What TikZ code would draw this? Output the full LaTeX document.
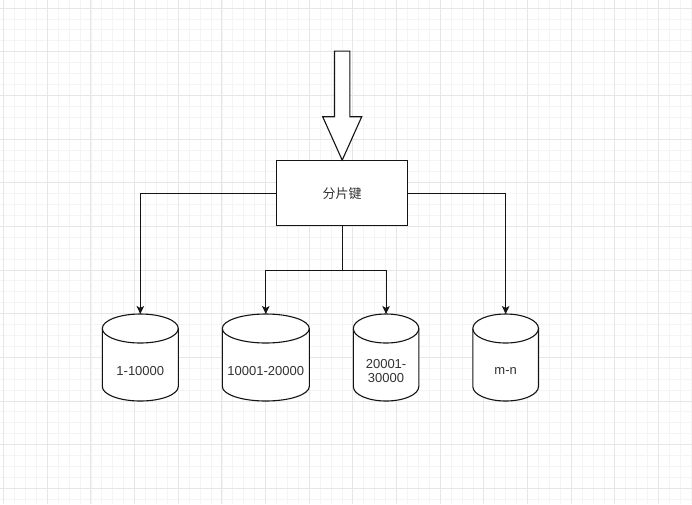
\documentclass[tikz,border=0pt]{standalone}
\usepackage{fontspec}
\setmainfont{Liberation Sans}
\newfontfamily\cjk{Noto Sans CJK SC}
\usepackage{tikz}
\usetikzlibrary{arrows.meta,calc,positioning}
\definecolor{gridmajor}{RGB}{230,230,230}
\definecolor{gridminor}{RGB}{244,244,244}
\definecolor{ink}{RGB}{20,20,20}
\definecolor{inktext}{RGB}{50,50,50}

\begin{document}
\begin{tikzpicture}[x=1pt, y=-1pt,
  minorline/.style={draw=gridminor, line width=0.8pt},
  majorline/.style={draw=gridmajor, line width=0.9pt},
  keybox/.style={draw=ink, fill=white, line width=1.1pt, minimum width=131pt, minimum height=65pt, inner sep=0pt, font=\cjk\fontsize{13}{16}\selectfont, text=inktext},
  link/.style={draw=ink, line width=1.1pt, -{Stealth[length=8pt, width=7.5pt, inset=2pt]}},
  feeder/.style={draw=ink, fill=white, line width=1.1pt, line join=miter},
  dbline/.style={draw=ink, fill=white, line width=1.1pt},
  dbtext/.style={yshift=-13.5pt, inner sep=0pt, align=center, text=inktext, font=\fontsize{13}{14}\selectfont},
  db/.style={minimum width=#1pt, minimum height=87pt, inner sep=0pt, outer sep=0pt,
    append after command={\pgfextra{
      \draw[dbline] ($(\tikzlastnode.north west)+(0,14.5)$) arc[start angle=180, end angle=0, x radius=#1/2*1pt, y radius=14.5pt]
        -- ($(\tikzlastnode.south east)+(0,-14.5)$) arc[start angle=0, end angle=-180, x radius=#1/2*1pt, y radius=14.5pt] -- cycle;
      \draw[dbline, fill=none] ($(\tikzlastnode.north west)+(0,14.5)$) arc[start angle=180, end angle=360, x radius=#1/2*1pt, y radius=14.5pt];
    }}}]

 \fill[white] (0,0) rectangle (692,504);
 \useasboundingbox (0,0) rectangle (692,504);
 \foreach \i in {0,...,63} \draw[minorline] (3.6+10.915*\i,0) -- (3.6+10.915*\i,504);
 \foreach \j in {0,...,45} \draw[minorline] (0,8+10.915*\j) -- (692,8+10.915*\j);
 \foreach \i in {0,...,15} \draw[majorline] (3.6+43.66*\i,0) -- (3.6+43.66*\i,504);
 \foreach \j in {0,...,11} \draw[majorline] (0,8+43.66*\j) -- (692,8+43.66*\j);

 \node[keybox] (key) at (342.2,193.2) {分片键};

 \node[db=76, label={[name=d1-txt, dbtext]center:1-10000}] (d1) at (140.3,357.5) {};
 \node[db=87, right=44pt of d1, label={[name=d2-txt, dbtext]center:10001-20000}] (d2) {};
 \node[db=65.5, right=44pt of d2, label={[name=d3-txt, dbtext]center:{20001-\\30000}}] (d3) {};
 \node[db=65.7, right=54pt of d3, label={[name=d4-txt, dbtext]center:m-n}] (d4) {};

 \coordinate (feed) at ($(key.north)+(0,-109)$);
 \coordinate (fork) at ($(key.south)+(0,43.8)$);

 \draw[feeder] ($(feed)+(-7.7,0)$) -- ($(feed)+(7.7,0)$) -- ($(key.north)+(7.7,-43.4)$) -- ($(key.north)+(19.5,-43.4)$)
   -- (key.north) -- ($(key.north)+(-19.5,-43.4)$) -- ($(key.north)+(-7.7,-43.4)$) -- cycle;

 \draw[link] (key.west) -| (d1.north);
 \draw[link] (key.east) -| (d4.north);
 \draw[link] (key.south) -- (fork) -| (d2.north);
 \draw[link] (fork) -| (d3.north);
\end{tikzpicture}
\end{document}
